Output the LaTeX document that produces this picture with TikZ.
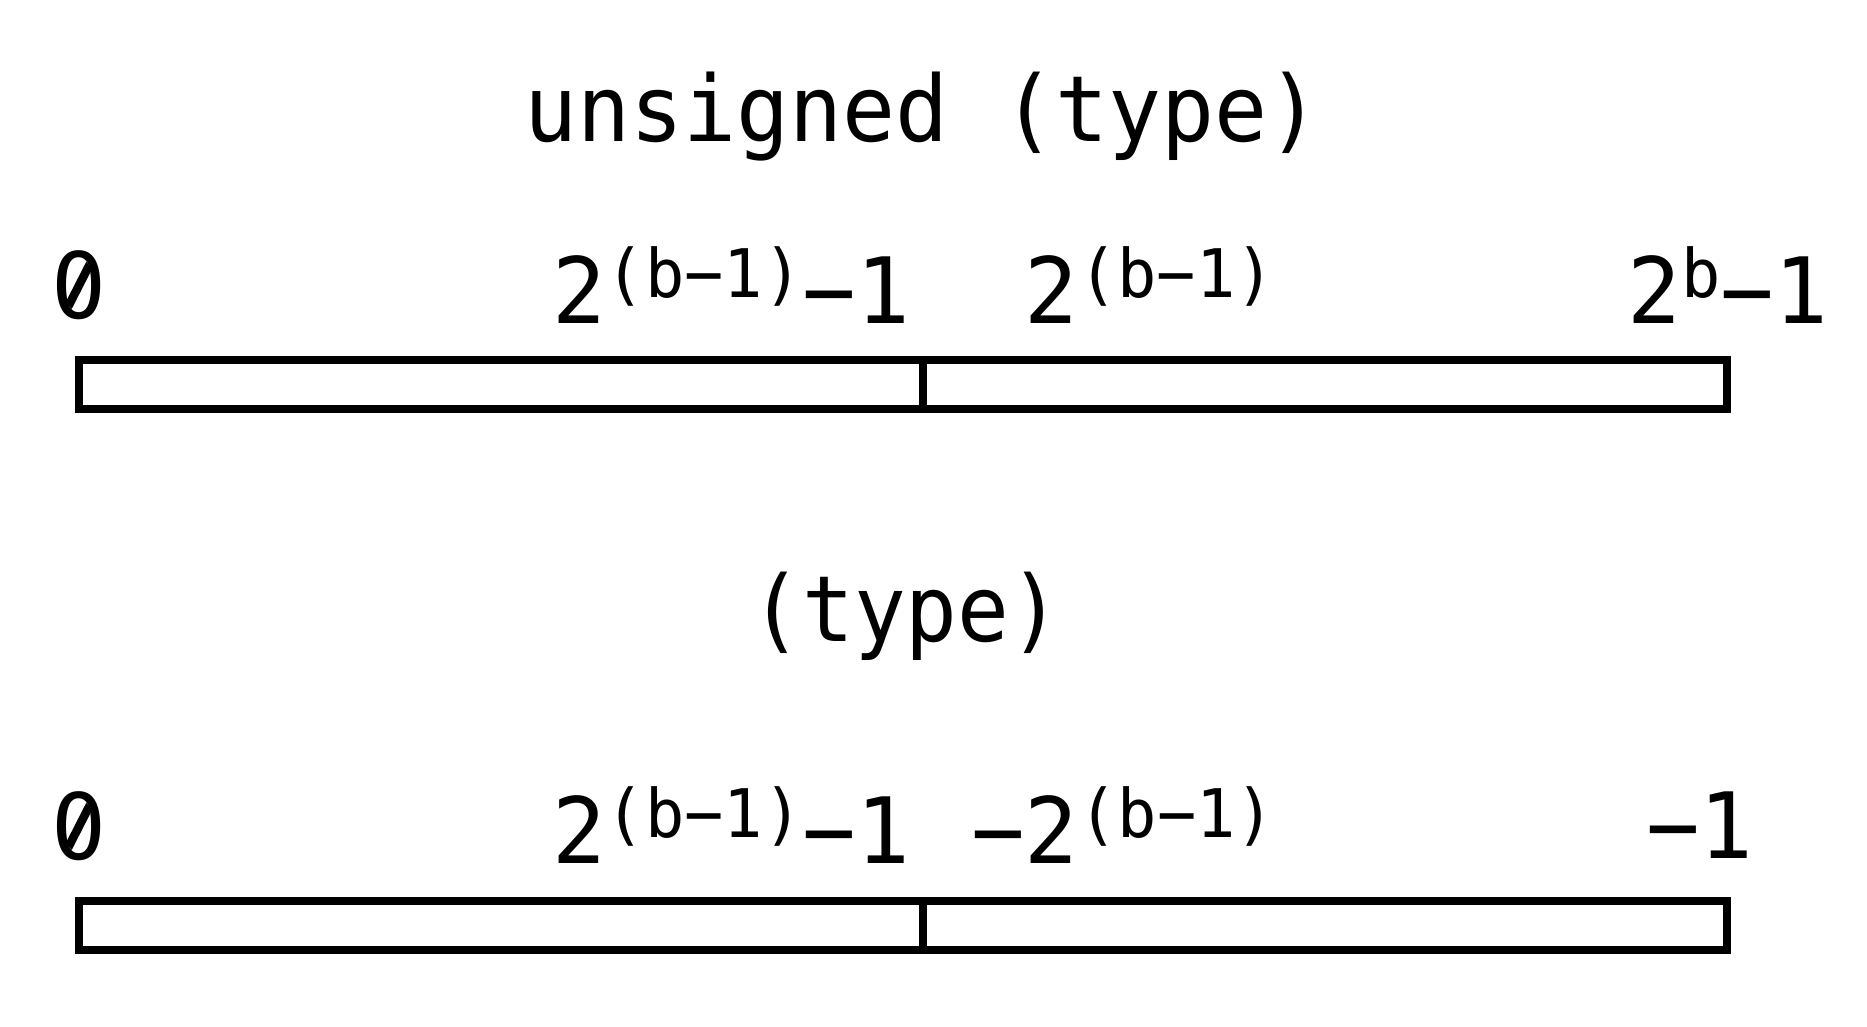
\documentclass[tikz,border=0pt]{standalone}
\usepackage{fontspec}
\newfontfamily\dvm{DejaVu Sans Mono}
\newcommand{\bigf}{\fontsize{91.5pt}{100pt}\selectfont}
\newcommand{\supf}[1]{\raisebox{26.3pt}{\fontsize{67pt}{72pt}\selectfont #1}}
\newcommand{\sq}[1]{\scalebox{0.975}[1]{#1}}
\tikzset{
  lbl/.style={inner sep=0pt, outer sep=0pt, anchor=base west, font=\dvm\bigf},
  ttl/.style={inner sep=0pt, outer sep=0pt, anchor=base, font=\dvm\bigf},
  bar/.style={draw=black, line width=8pt},
  zslash/.style={line width=8.5pt, line cap=butt}
}
\newcommand{\slashzero}[1]{%
  \begin{scope}[shift={(#1.base west)}]
    \fill[white] (27.4,-33.3) ellipse [x radius=11.5, y radius=21];
    \begin{scope}
      \clip (27.4,-33.3) ellipse [x radius=15, y radius=27];
      \draw[zslash] (15,-8) -- (41,-59);
    \end{scope}
  \end{scope}}
\begin{document}
\begin{tikzpicture}[x=1pt,y=-1pt]
\useasboundingbox (0,0) rectangle (1867,1027);
% titles
\node[ttl] (t1) at (922.5,141.7) {\scalebox{0.963}[1]{unsigned (type)}};
\node[ttl] (t2) at (906,641.7) {\scalebox{0.94}[1]{(type)}};
% upper bar
\draw[bar] (79,360) rectangle (1727,409);
\draw[bar] (923,360) -- (923,409);
% lower bar
\draw[bar] (79,901) rectangle (1727,950);
\draw[bar] (923,901) -- (923,950);
% upper labels
\node[lbl] (u0) at (51.3,318.3) {0};
\slashzero{u0}
\node[lbl] (u1) at (552,323.3) {\sq{2\supf{(b−1)}−1}};
\node[lbl] (u2) at (1024.5,323.3) {\sq{2\supf{(b−1)}}};
\node[lbl] (u3) at (1627.5,323.3) {\sq{2\supf{b}−1}};
% lower labels
\node[lbl] (l0) at (51.3,859.3) {0};
\slashzero{l0}
\node[lbl] (l1) at (552,863.3) {\sq{2\supf{(b−1)}−1}};
\node[lbl] (l2) at (971,863.3) {\sq{−2\supf{(b−1)}}};
\node[lbl] (l3) at (1646,858.5) {\sq{−1}};
\end{tikzpicture}
\end{document}
